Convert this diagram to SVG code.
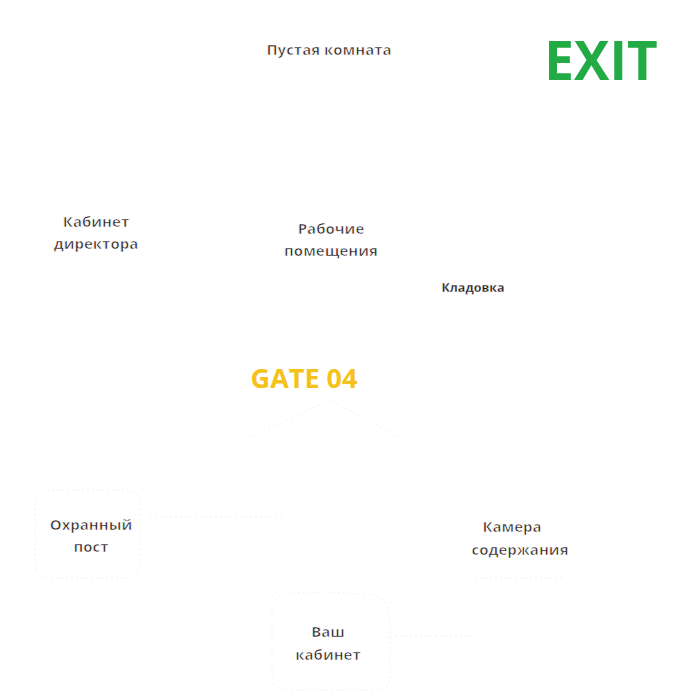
<svg xmlns="http://www.w3.org/2000/svg" width="700" height="700" viewBox="0 0 700 700">
  <style>
    .bg { fill: #ffffff; }
    .wall { fill: none; stroke: #f5f5f8; stroke-width: 1.5; stroke-dasharray: 2 3; }
    .lbl { font-family: "Open Sans", "Noto Sans", sans-serif; font-weight: 700; font-size: 15px; fill: #2a2020; stroke: #ffffff; stroke-width: 0.7; text-anchor: middle; }
    .small { font-size: 12.5px; stroke-width: 0.3; fill: #1e1616; }
    .exit { font-family: "Open Sans", "Noto Sans", sans-serif; font-weight: 700; font-size: 53px; fill: #22aa44; text-anchor: middle; }
    .gate { font-family: "Open Sans", "Noto Sans", sans-serif; font-weight: 700; font-size: 27px; fill: #f5c21a; text-anchor: middle; }
  </style>
  <rect class="bg" x="0" y="0" width="700" height="700"/>

  <!-- faint wall outlines -->
  <g id="walls">
    <path class="wall" d="M 52 490 L 125 490 Q 140 492 140 505 L 140 565 Q 138 578 122 578 L 45 578 Q 35 576 35 560 L 35 505 Q 37 492 52 490 Z"/>
    <path class="wall" d="M 250 437 L 330 400 L 405 440"/>
    <path class="wall" d="M 283 595 Q 310 590 375 595 Q 390 600 390 620 L 390 680 Q 388 690 375 690 L 285 690 Q 272 688 272 675 L 272 610 Q 275 597 283 595 Z"/>
    <path class="wall" d="M 475 578 L 565 578"/>
  </g>

  <!-- corridors -->
  <g id="connectors">
    <line class="wall" x1="150" y1="517" x2="282" y2="517"/>
    <line class="wall" x1="390" y1="636" x2="476" y2="636"/>
  </g>

  <g id="empty-room"><text class="lbl" x="329" y="55">Пустая комната</text></g>
  <g id="exit"><text class="exit" x="601" y="80">EXIT</text></g>
  <g id="director"><text class="lbl" x="96" y="227">Кабинет</text><text class="lbl" x="96" y="249">директора</text></g>
  <g id="work-rooms"><text class="lbl" x="331" y="234">Рабочие</text><text class="lbl" x="331" y="256">помещения</text></g>
  <g id="storage"><text class="lbl small" x="473" y="292">Кладовка</text></g>
  <g id="gate"><text class="gate" x="304" y="388">GATE 04</text></g>
  <g id="guard-post"><text class="lbl" x="91" y="530">Охранный</text><text class="lbl" x="91" y="552">пост</text></g>
  <g id="containment"><text class="lbl" x="512" y="532">Камера</text><text class="lbl" x="520" y="555">содержания</text></g>
  <g id="your-office"><text class="lbl" x="328" y="637">Ваш</text><text class="lbl" x="328" y="660">кабинет</text></g>
</svg>
